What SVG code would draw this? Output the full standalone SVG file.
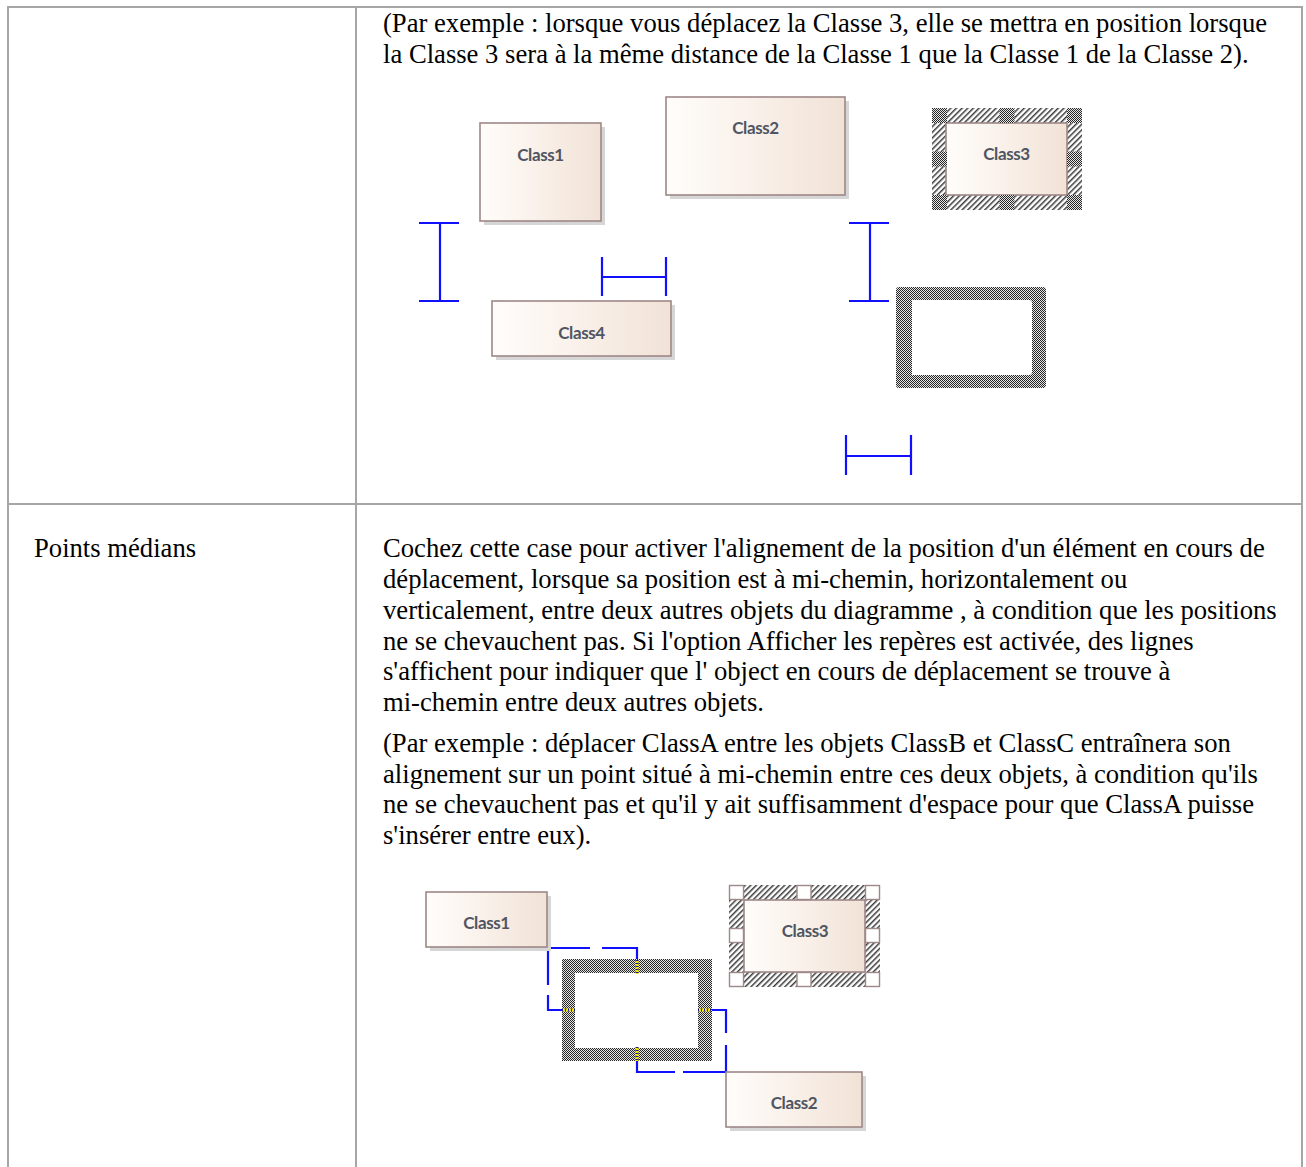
<svg xmlns="http://www.w3.org/2000/svg" width="1306" height="1167" viewBox="0 0 1306 1167">
<defs>
  <linearGradient id="cls" x1="0" y1="0" x2="1" y2="0">
    <stop offset="0" stop-color="#fffdfb"/>
    <stop offset="0.5" stop-color="#f9f0e9"/>
    <stop offset="1" stop-color="#f1e2d6"/>
  </linearGradient>
  <pattern id="chk" width="2" height="2" patternUnits="userSpaceOnUse">
    <rect width="2" height="2" fill="#e6e6e6"/>
    <rect width="1" height="1" fill="#262626"/>
    <rect x="1" y="1" width="1" height="1" fill="#262626"/>
  </pattern>
  <pattern id="hatch" width="4" height="4" patternUnits="userSpaceOnUse" patternTransform="rotate(45)">
    <rect width="4" height="4" fill="#ffffff"/>
    <rect width="1.5" height="4" fill="#3a3a3a"/>
  </pattern>
</defs>
<style>
  .grid { stroke: #a6a6a6; stroke-width: 2; fill: none; }
  .body { font-family: "Liberation Serif", "Times New Roman", serif; font-size: 26.65px; fill: #000; }
  .box { fill: url(#cls); stroke: #9e8888; stroke-width: 1.6; }
  .shadow { fill: #d6d6d6; }
  .lbl { font-family: Lato, "Liberation Sans", sans-serif; font-weight: 700; font-size: 17px; fill: #4f5562; text-anchor: middle; letter-spacing: -0.4px; }
  .guide { stroke: #1010ff; stroke-width: 2.2; fill: none; }
  .drag { fill: url(#chk); fill-rule: evenodd; }
  .hatch { fill: url(#hatch); }
  .hdark { fill: url(#chk); }
  .hwhite { fill: #ffffff; stroke: #9e8888; stroke-width: 1.4; }
  .mk1 { stroke: #f2e600; stroke-width: 3; }
  .mk2 { stroke: #1a1a9a; stroke-width: 3; stroke-dasharray: 1 2; }
</style>

<g id="table">
  <line class="grid" x1="8" y1="7" x2="1302" y2="7"/>
  <line class="grid" x1="8" y1="6" x2="8" y2="1167"/>
  <line class="grid" x1="1302" y1="6" x2="1302" y2="1167"/>
  <line class="grid" x1="356" y1="7" x2="356" y2="1167"/>
  <line class="grid" x1="8" y1="504" x2="1302" y2="504"/>
</g>

<g id="text-top">
  <text class="body" x="383" y="32">(Par exemple : lorsque vous déplacez la Classe 3, elle se mettra en position lorsque</text>
  <text class="body" x="383" y="63">la Classe 3 sera à la même distance de la Classe 1 que la Classe 1 de la Classe 2).</text>
</g>

<g id="text-bottom">
  <text class="body" x="34" y="557">Points médians</text>
  <text class="body" x="383" y="557">Cochez cette case pour activer l'alignement de la position d'un élément en cours de</text>
  <text class="body" x="383" y="588">déplacement, lorsque sa position est à mi-chemin, horizontalement ou</text>
  <text class="body" x="383" y="619">verticalement, entre deux autres objets du diagramme , à condition que les positions</text>
  <text class="body" x="383" y="649.5">ne se chevauchent pas. Si l'option Afficher les repères est activée, des lignes</text>
  <text class="body" x="383" y="680">s'affichent pour indiquer que l' object en cours de déplacement se trouve à</text>
  <text class="body" x="383" y="711">mi-chemin entre deux autres objets.</text>
  <text class="body" x="383" y="752">(Par exemple : déplacer ClassA entre les objets ClassB et ClassC entraînera son</text>
  <text class="body" x="383" y="782.5">alignement sur un point situé à mi-chemin entre ces deux objets, à condition qu'ils</text>
  <text class="body" x="383" y="813">ne se chevauchent pas et qu'il y ait suffisamment d'espace pour que ClassA puisse</text>
  <text class="body" x="383" y="844">s'insérer entre eux).</text>
</g>

<!-- Top diagram -->
<g id="top-class1">
  <rect class="shadow" x="484" y="127" width="121" height="98"/>
  <rect class="box" x="480" y="123" width="121" height="98"/>
  <text class="lbl" x="540.5" y="161">Class1</text>
</g>
<g id="top-class2">
  <rect class="shadow" x="670" y="101" width="179" height="98"/>
  <rect class="box" x="666" y="97" width="179" height="98"/>
  <text class="lbl" x="755.5" y="134">Class2</text>
</g>
<g id="top-class4">
  <rect class="shadow" x="496" y="305" width="179" height="55"/>
  <rect class="box" x="492" y="301" width="179" height="55"/>
  <text class="lbl" x="581.5" y="339">Class4</text>
</g>
<g id="top-class3">
  <rect class="hatch" x="932" y="108" width="150" height="102"/>
  <rect class="box" x="946" y="123" width="121" height="72"/>
  <text class="lbl" x="1006.5" y="160">Class3</text>
  <rect class="hdark" x="932" y="108" width="15" height="15"/>
  <rect class="hdark" x="999.5" y="108" width="15" height="15"/>
  <rect class="hdark" x="1067" y="108" width="15" height="15"/>
  <rect class="hdark" x="932" y="151.5" width="15" height="15"/>
  <rect class="hdark" x="1067" y="151.5" width="15" height="15"/>
  <rect class="hdark" x="932" y="195" width="15" height="15"/>
  <rect class="hdark" x="999.5" y="195" width="15" height="15"/>
  <rect class="hdark" x="1067" y="195" width="15" height="15"/>
</g>
<g id="top-drag">
  <path class="drag" d="M899,287 H1043 Q1046,287 1046,290 V385 Q1046,388 1043,388 H899 Q896,388 896,385 V290 Q896,287 899,287 Z M912,300 V375 H1029 Q1032,375 1032,372 V303 Q1032,300 1029,300 Z"/>
</g>

<g id="connectors">
  <!-- top guides -->
  <path class="guide" d="M419,223 H459 M440,223 V301 M419,301 H459"/>
  <path class="guide" d="M602,257 V296 M602,277 H666 M666,257 V296"/>
  <path class="guide" d="M849,223 H889 M870,223 V301 M849,301 H889"/>
  <path class="guide" d="M846,435 V475 M846,456 H911 M911,435 V475"/>
  <!-- bottom dashed guides -->
  <path class="guide" d="M548,948 H590 M602,948 H637 V961"/>
  <path class="guide" d="M548,948 V985 M548,995 V1010 H562"/>
  <path class="guide" d="M711,1010 H726 V1033 M726,1045 V1072"/>
  <path class="guide" d="M637,1061 V1072 H675 M683,1072 H726"/>
</g>

<!-- Bottom diagram -->
<g id="bot-class1">
  <rect class="shadow" x="430" y="896" width="121" height="55"/>
  <rect class="box" x="426" y="892" width="121" height="55"/>
  <text class="lbl" x="486.5" y="929">Class1</text>
</g>
<g id="bot-class2">
  <rect class="shadow" x="730" y="1076" width="136" height="55"/>
  <rect class="box" x="726" y="1072" width="136" height="55"/>
  <text class="lbl" x="794" y="1109">Class2</text>
</g>
<g id="bot-class3">
  <rect class="hatch" x="729" y="885" width="151" height="102"/>
  <rect class="box" x="744" y="900" width="121" height="72"/>
  <text class="lbl" x="805" y="937">Class3</text>
  <rect class="hwhite" x="729.5" y="885.5" width="14" height="14"/>
  <rect class="hwhite" x="797" y="885.5" width="14" height="14"/>
  <rect class="hwhite" x="865.5" y="885.5" width="14" height="14"/>
  <rect class="hwhite" x="729.5" y="928.5" width="14" height="14"/>
  <rect class="hwhite" x="865.5" y="928.5" width="14" height="14"/>
  <rect class="hwhite" x="729.5" y="972.5" width="14" height="14"/>
  <rect class="hwhite" x="797" y="972.5" width="14" height="14"/>
  <rect class="hwhite" x="865.5" y="972.5" width="14" height="14"/>
</g>
<g id="bot-drag">
  <path class="drag" d="M562,959 H712 V1061 H562 Z M575,973 V1048 H698 V973 Z"/>
  <line class="mk1" x1="637" y1="960" x2="637" y2="974"/>
  <line class="mk2" x1="637" y1="960" x2="637" y2="974"/>
  <line class="mk1" x1="637" y1="1047" x2="637" y2="1061"/>
  <line class="mk2" x1="637" y1="1047" x2="637" y2="1061"/>
  <line class="mk1" x1="562" y1="1010" x2="575" y2="1010"/>
  <line class="mk2" x1="562" y1="1010" x2="575" y2="1010"/>
  <line class="mk1" x1="698" y1="1010" x2="711" y2="1010"/>
  <line class="mk2" x1="698" y1="1010" x2="711" y2="1010"/>
</g>
</svg>
